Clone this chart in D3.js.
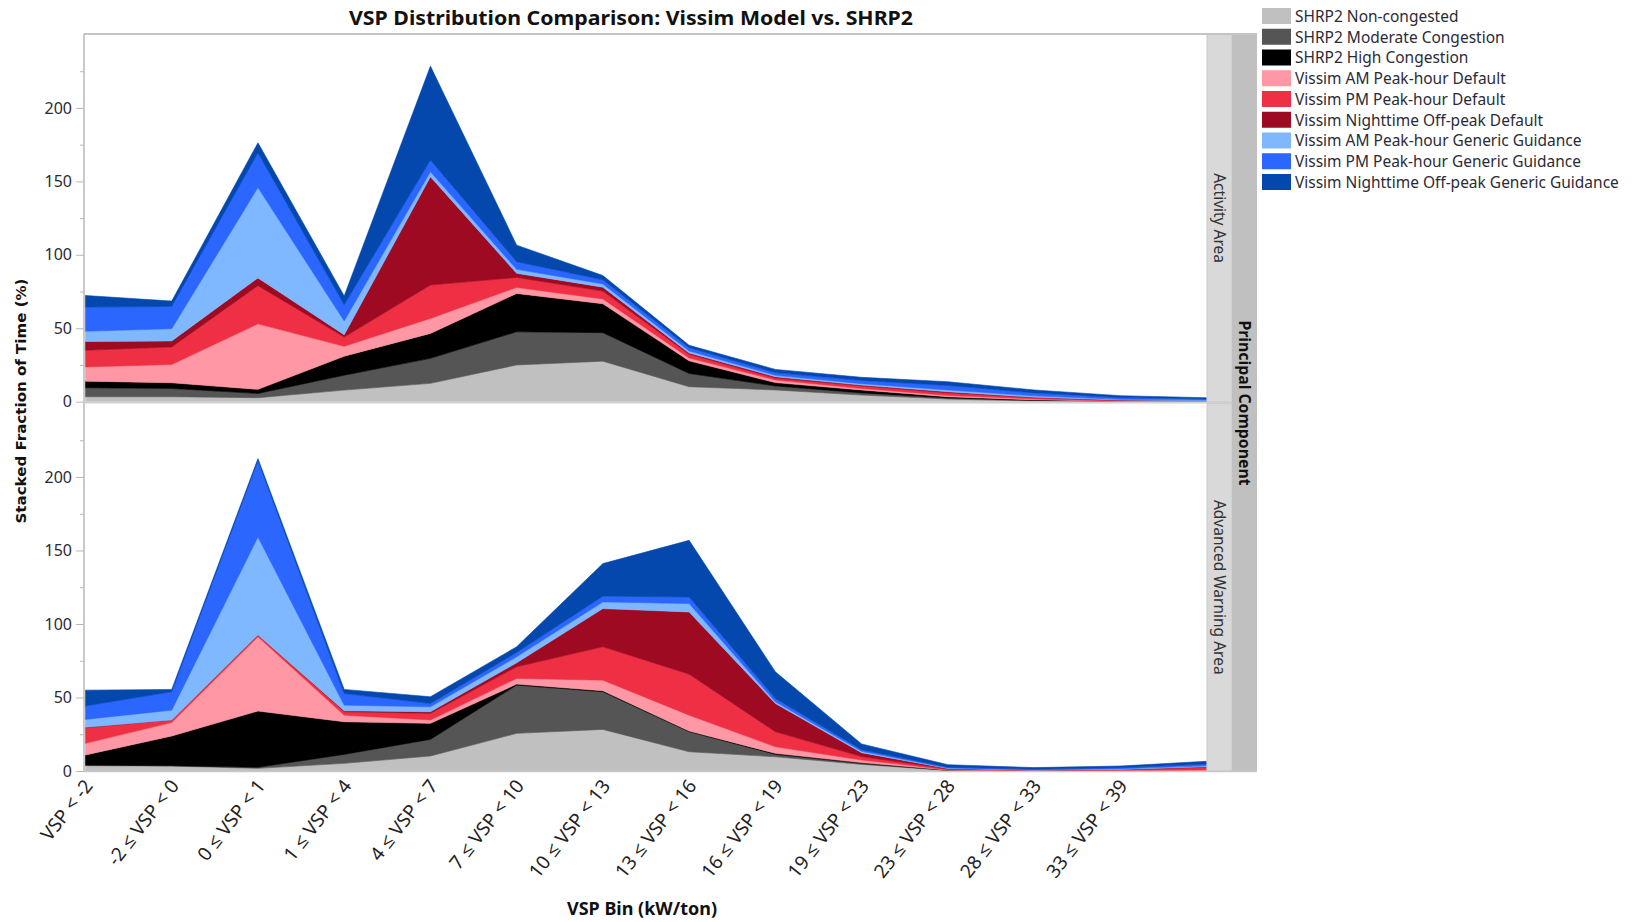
<!DOCTYPE html>
<html>
<head>
<meta charset="utf-8">
<script src="https://cdn.jsdelivr.net/npm/d3@7"></script>
<style>
  body { margin: 0; background: #fff; }
  svg { display: block; }
</style>
</head>
<body>
<svg id="chart" width="1634" height="922"></svg>
<script>
// VSP bins along the x axis
const categories = ["VSP < -2", "-2 ≤ VSP < 0", "0 ≤ VSP < 1", "1 ≤ VSP < 4", "4 ≤ VSP < 7",
  "7 ≤ VSP < 10", "10 ≤ VSP < 13", "13 ≤ VSP < 16", "16 ≤ VSP < 19", "19 ≤ VSP < 23",
  "23 ≤ VSP < 28", "28 ≤ VSP < 33", "33 ≤ VSP < 39", "VSP ≥ 39"];
const tickLabels = ["VSP < -2", "-2 ≤ VSP < 0", "0 ≤ VSP < 1", "1 ≤ VSP < 4", "4 ≤ VSP < 7",
  "7 ≤ VSP < 10", "10 ≤ VSP < 13", "13 ≤ VSP < 16", "16 ≤ VSP < 19", "19 ≤ VSP < 23",
  "23 ≤ VSP < 28", "28 ≤ VSP < 33", "33 ≤ VSP < 39", ""];

const seriesNames = ["SHRP2 Non-congested", "SHRP2 Moderate Congestion", "SHRP2 High Congestion",
  "Vissim AM Peak-hour Default", "Vissim PM Peak-hour Default", "Vissim Nighttime Off-peak Default",
  "Vissim AM Peak-hour Generic Guidance", "Vissim PM Peak-hour Generic Guidance",
  "Vissim Nighttime Off-peak Generic Guidance"];
const seriesColors = ["#c0c0c0", "#555555", "#000000", "#ff97a4", "#ef3044", "#9e0a22",
  "#80b8ff", "#2a66ff", "#0448ae"];

const panelNames = ["Activity Area", "Advanced Warning Area"];
const yMajorTicks = [0, 50, 100, 150, 200];
const yMinorTicks = [25, 75, 125, 175, 225];

// Activity Area: fraction of time (%) per bin
const actNonCongested = [3.4, 3.4, 2.7, 7.9, 12.5, 25, 27.6, 10.2, 8, 4.5, 1.8, 0.5, 0.1, 0];
const actModerate     = [6.1, 5.6, 2.9, 10.1, 17, 22.6, 19.4, 9, 2.7, 1.5, 0.8, 0.4, 0.1, 0];
const actHigh         = [4.5, 3.9, 2.8, 13, 17, 26.1, 19.7, 8.6, 2.3, 2, 0.8, 0.4, 0.1, 0];
const actAmDefault    = [9.7, 12.4, 44.6, 6.7, 10.2, 4.1, 3.3, 2, 1.8, 1, 0.9, 0.6, 0.2, 0.3];
const actPmDefault    = [11.3, 12, 26, 6.3, 22.7, 6.8, 5.3, 2.5, 1.3, 1.7, 1.7, 0.9, 0.4, 0.3];
const actNightDefault = [6, 4.1, 5.3, 1.6, 73.8, 2.8, 2.7, 0.9, 0.9, 0.6, 0.8, 0.3, 0.2, 0.1];
const actAmGeneric    = [7, 8.3, 61.5, 9.4, 3.4, 2.7, 2.2, 1.4, 1, 1, 1.2, 0.9, 0.5, 0.4];
const actPmGeneric    = [16.4, 15.2, 23.7, 11, 7.9, 5.2, 2.8, 2.2, 1.8, 2.2, 3, 2, 1.2, 0.8];
const actNightGeneric = [7.9, 3.6, 6.8, 6, 64, 11.3, 2.9, 1.6, 2.2, 2.1, 2.6, 2, 1.3, 0.8];

// Advanced Warning Area: fraction of time (%) per bin
const awaNonCongested = [3.6, 3.4, 1.8, 5.2, 10.2, 25.6, 28.3, 13.1, 9.7, 4.5, 0.4, 0.1, 0, 0];
const awaModerate     = [0.4, 0.2, 0.7, 6.1, 11.3, 32.8, 25.6, 13.6, 1.6, 0.7, 0.1, 0, 0, 0];
const awaHigh         = [6.9, 20.2, 38.3, 22.2, 10.9, 0.7, 0.7, 0.5, 0.7, 0.5, 0.1, 0, 0, 0];
const awaAmDefault    = [7.9, 9.2, 50.5, 4.5, 2.3, 3.9, 7.2, 10.8, 4.5, 1.8, 0.3, 0.1, 0.3, 0.6];
const awaPmDefault    = [10.6, 1.7, 1.1, 2.3, 4.5, 7.9, 22.7, 27.9, 10.2, 2.3, 0.5, 0.2, 0.6, 1.9];
const awaNightDefault = [0.3, 0, 0.2, 0.7, 1.1, 2.7, 26, 42.3, 19.3, 2.7, 0.3, 0.1, 0.2, 0.4];
const awaAmGeneric    = [5.4, 6.7, 66.6, 3.8, 3.4, 4.1, 4.5, 5.7, 1.1, 0.9, 0.4, 0.3, 0.4, 0.6];
const awaPmGeneric    = [9.1, 12.5, 52.1, 7.9, 2.2, 2.9, 3.9, 4.5, 2.3, 1.1, 0.5, 0.4, 0.7, 1.2];
const awaNightGeneric = [10.8, 1.6, 1.2, 2.8, 4.6, 3.9, 22.2, 38.5, 18.1, 3.9, 1.7, 1.1, 1.2, 1.9];

const panelSeries = [
  [actNonCongested, actModerate, actHigh, actAmDefault, actPmDefault, actNightDefault, actAmGeneric, actPmGeneric, actNightGeneric],
  [awaNonCongested, awaModerate, awaHigh, awaAmDefault, awaPmDefault, awaNightDefault, awaAmGeneric, awaPmGeneric, awaNightGeneric]
];

// ---- layout ----
const svg = d3.select("#chart");
const frameLeft = 84, frameRight = 1207, frameTop = 34, frameBottom = 771;
const strip1 = [1207, 1232], strip2 = [1232, 1257];
const panelBands = [[34.5, 401.7], [403.5, 771]];
const axisGray = "#b9b9b9";
const textFont = "'Noto Sans', 'Open Sans', sans-serif";

const x = d3.scalePoint().domain(categories).range([85.5, 1206.5]).padding(0);

svg.append("rect").attr("width", 1634).attr("height", 922).attr("fill", "#fff");

const defs = svg.append("defs");

panelSeries.forEach((seriesArrays, p) => {
  const [top, bottom] = panelBands[p];
  const y = d3.scaleLinear().domain([0, 250]).range([bottom, top]);

  const table = categories.map((c, i) => {
    const row = { cat: c };
    seriesNames.forEach((s, k) => { row[s] = seriesArrays[k][i]; });
    return row;
  });
  const stacked = d3.stack().keys(seriesNames)(table);

  const clipId = "clip" + p;
  defs.append("clipPath").attr("id", clipId)
    .append("rect").attr("x", frameLeft).attr("y", top)
    .attr("width", frameRight - frameLeft).attr("height", bottom - top);

  const area = d3.area()
    .x(d => x(d.data.cat))
    .y0(d => y(d[0]))
    .y1(d => y(d[1]));

  svg.append("g").attr("clip-path", `url(#${clipId})`)
    .selectAll("path").data(stacked).join("path")
    .attr("d", area)
    .attr("fill", (d, i) => seriesColors[i])
    .attr("stroke", (d, i) => seriesColors[i])
    .attr("stroke-width", 0.6)
    .attr("stroke-linejoin", "round");

  // minor ticks
  const minor = svg.append("g").attr("transform", `translate(${frameLeft},0)`)
    .call(d3.axisLeft(y).tickValues(yMinorTicks).tickSize(4).tickFormat(""));
  minor.select(".domain").remove();
  minor.selectAll("line").attr("stroke", axisGray);

  // major ticks with labels
  const major = svg.append("g").attr("transform", `translate(${frameLeft},0)`)
    .call(d3.axisLeft(y).tickValues(yMajorTicks).tickSize(8).tickPadding(4));
  major.select(".domain").remove();
  major.selectAll("line").attr("stroke", axisGray);
  major.selectAll("text")
    .attr("font-family", textFont).attr("font-size", 16).attr("fill", "#2b2b35");

  // facet strip
  svg.append("rect")
    .attr("x", strip1[0]).attr("y", top)
    .attr("width", strip1[1] - strip1[0]).attr("height", bottom - top)
    .attr("fill", "#d9d9d9").attr("stroke", "#c9c9c9").attr("stroke-width", 1);
  const cy = (top + bottom) / 2;
  svg.append("text")
    .attr("transform", `translate(${(strip1[0] + strip1[1]) / 2},${cy}) rotate(90)`)
    .attr("text-anchor", "middle").attr("dy", "0.35em")
    .attr("font-family", textFont).attr("font-size", 15.5).attr("fill", "#333")
    .text(panelNames[p]);
});

// outer strip
svg.append("rect")
  .attr("x", strip2[0]).attr("y", frameTop)
  .attr("width", strip2[1] - strip2[0]).attr("height", frameBottom - frameTop)
  .attr("fill", "#c0c0c0");
svg.append("text")
  .attr("transform", `translate(${(strip2[0] + strip2[1]) / 2},403) rotate(90)`)
  .attr("text-anchor", "middle").attr("dy", "0.35em")
  .attr("font-family", textFont).attr("font-size", 15.8).attr("font-weight", "bold").attr("fill", "#111")
  .text("Principal Component");

// frame lines
svg.append("line").attr("x1", frameLeft).attr("x2", strip2[1]).attr("y1", frameTop).attr("y2", frameTop)
  .attr("stroke", "#c4c4c4").attr("stroke-width", 2);
svg.append("line").attr("x1", frameLeft).attr("x2", frameLeft).attr("y1", frameTop).attr("y2", frameBottom + 1)
  .attr("stroke", axisGray).attr("stroke-width", 1.5);
svg.append("line").attr("x1", frameLeft).attr("x2", strip1[1]).attr("y1", 402.6).attr("y2", 402.6)
  .attr("stroke", "#d0d0d0").attr("stroke-width", 2);
svg.append("line").attr("x1", frameLeft).attr("x2", strip2[1]).attr("y1", frameBottom + 0.5).attr("y2", frameBottom + 0.5)
  .attr("stroke", "#c8c8c8").attr("stroke-width", 1.5);

// x tick labels, slanted
svg.append("g").selectAll("text").data(categories).join("text")
  .attr("transform", d => `translate(${x(d) + 3},${frameBottom + 11}) rotate(-52)`)
  .attr("text-anchor", "end").attr("dy", "0.35em")
  .attr("font-family", textFont).attr("font-size", 19).attr("fill", "#222")
  .text((d, i) => tickLabels[i]);

// titles
svg.append("text")
  .attr("x", 631).attr("y", 24.5).attr("text-anchor", "middle")
  .attr("font-family", textFont).attr("font-size", 20).attr("font-weight", "bold").attr("fill", "#111")
  .attr("textLength", 564).attr("lengthAdjust", "spacingAndGlyphs")
  .text("VSP Distribution Comparison: Vissim Model vs. SHRP2");

svg.append("text")
  .attr("x", 642).attr("y", 915).attr("text-anchor", "middle")
  .attr("font-family", textFont).attr("font-size", 17).attr("font-weight", "bold").attr("fill", "#111")
  .attr("textLength", 150).attr("lengthAdjust", "spacingAndGlyphs")
  .text("VSP Bin (kW/ton)");

svg.append("text")
  .attr("transform", "translate(21,401) rotate(-90)")
  .attr("text-anchor", "middle").attr("dy", "0.35em")
  .attr("font-family", "'DejaVu Sans', Verdana, sans-serif").attr("font-size", 14).attr("font-weight", "bold").attr("fill", "#111")
  .attr("textLength", 245).attr("lengthAdjust", "spacingAndGlyphs")
  .text("Stacked Fraction of Time (%)");

// legend
const legend = svg.append("g").attr("transform", "translate(1262,8)");
const rows = legend.selectAll("g").data(seriesNames).join("g")
  .attr("transform", (d, i) => `translate(0,${i * 20.75})`);
rows.append("rect").attr("width", 29).attr("height", 16)
  .attr("fill", (d, i) => seriesColors[i]);
const legendText = rows.append("text").attr("x", 33).attr("y", 8.5).attr("dy", "0.35em")
  .attr("font-family", textFont).attr("font-size", 16).attr("fill", "#2b2b35")
  .text(d => d);
// size legend text so the longest entry spans its measured width
let longest = 0;
legendText.each(function () { longest = Math.max(longest, this.getComputedTextLength()); });
if (longest > 0) legendText.attr("font-size", 16 * 324 / longest);
</script>
</body>
</html>
